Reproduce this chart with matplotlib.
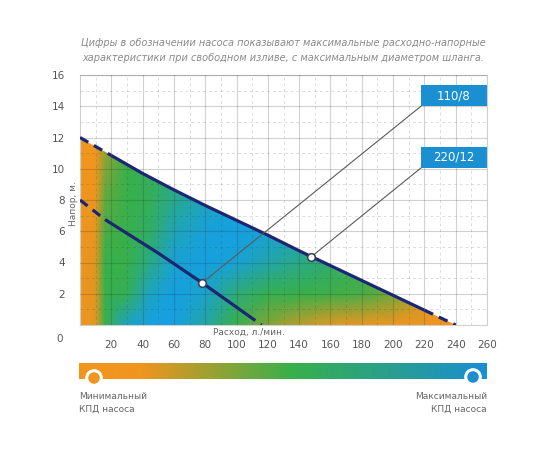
import numpy as np
import matplotlib
matplotlib.use('Agg')
import matplotlib.pyplot as plt
from matplotlib.colors import LinearSegmentedColormap
from matplotlib.patches import Polygon, Rectangle, Circle

plt.rcParams['font.family'] = ['DejaVu Sans']

# ---------------- data ----------------
title_lines = ["Цифры в обозначении насоса показывают максимальные расходно-напорные",
               "характеристики при свободном изливе, с максимальным диаметром шланга."]
x_label = "Расход, л./мин."
y_label = "Напор, м."
flow_ticks = list(range(20, 261, 20))
head_ticks = list(range(2, 17, 2))

# pump 220/12 curve
upper_q = [0, 20, 40, 60, 80, 100, 120, 140, 160, 180, 200, 220, 240]
upper_h = [12, 10.85, 9.7, 8.65, 7.65, 6.7, 5.75, 4.75, 3.8, 2.85, 1.9, 0.95, 0]
# pump 110/8 curve
lower_q = [0, 16, 50, 78, 107, 116]
lower_h = [8, 6.75, 4.6, 2.7, 0.64, 0]

pump_names = ["110/8", "220/12"]
pump_points_q = [78, 147.5]
pump_points_h = [2.7, 4.35]
label_box_q = [217.8, 217.8]
label_box_h = [14.0, 10.05]

# efficiency map (0 = minimal, 1 = maximal)
map_q = [0, 10, 16, 30, 45, 60, 80, 100, 120, 140, 160, 180, 200, 220, 240]
map_h = [0, 2, 4, 6, 8, 10, 12]
map_eff = [
    [0, 0.04, 0.5, 0.9, 1.0, 1.0, 0.8, 0.5, 0.3, 0.15, 0.05, 0.02, 0, 0, 0],
    [0, 0.05, 0.5, 0.55, 0.9, 1.0, 0.92, 0.65, 0.52, 0.5, 0.48, 0.45, 0.35, 0.08, 0],
    [0, 0.05, 0.5, 0.5, 0.7, 0.95, 1.0, 0.95, 0.82, 0.7, 0.62, 0.55, 0.45, 0.15, 0],
    [0, 0.03, 0.45, 0.5, 0.6, 0.85, 0.97, 1.0, 0.95, 0.88, 0.72, 0.58, 0.45, 0.15, 0],
    [0, 0.02, 0.4, 0.5, 0.55, 0.72, 0.88, 0.95, 0.92, 0.85, 0.7, 0.55, 0.4, 0.15, 0],
    [0, 0, 0.3, 0.5, 0.55, 0.65, 0.8, 0.85, 0.85, 0.8, 0.7, 0.55, 0.4, 0.15, 0],
    [0, 0, 0.2, 0.5, 0.55, 0.6, 0.75, 0.8, 0.8, 0.75, 0.7, 0.55, 0.4, 0.15, 0],
]
legend_min = "Минимальный\nКПД насоса"
legend_max = "Максимальный\nКПД насоса"

# ---------------- styles ----------------
ORANGE = '#F0951E'
GREEN = '#38B04A'
BLUE = '#16A0E2'
NAVY = '#1c2672'
GRAY_TXT = '#555555'
cmap = LinearSegmentedColormap.from_list('eff', [ORANGE, GREEN, BLUE])
bar_cmap = LinearSegmentedColormap.from_list(
    'bar', [(0, ORANGE), (0.15, ORANGE), (0.52, GREEN), (1, '#1a8ed3')])

W, H = 550, 450
fig = plt.figure(figsize=(5.5, 4.5), dpi=100)
fig.patch.set_facecolor('white')

L, R, T, B = 80, 487, 75, 325
ax = fig.add_axes([L / W, 1 - B / H, (R - L) / W, (B - T) / H])
ax.set_xlim(0, 260)
ax.set_ylim(0, 16)

# efficiency field clipped to the area under the 220/12 curve
Xg, Yg = np.meshgrid(map_q, map_h)
mesh = ax.pcolormesh(Xg, Yg, np.array(map_eff), cmap=cmap, vmin=0, vmax=1,
                     shading='gouraud', zorder=1)
clip = Polygon([(0, 0)] + list(zip(upper_q, upper_h)), closed=True,
               transform=ax.transData, facecolor='none', edgecolor='none')
ax.add_patch(clip)
mesh.set_clip_path(clip)

# grid
ax.set_xticks(flow_ticks)
ax.set_xticks(range(10, 260, 20), minor=True)
ax.set_yticks(head_ticks)
ax.set_yticks(range(1, 16, 2), minor=True)
ax.grid(which='major', color='#303030', alpha=0.22, lw=0.8, zorder=2)
ax.grid(which='minor', color='#303030', alpha=0.16, lw=0.7, ls=(0, (3, 3)), zorder=2)
ax.set_axisbelow(False)
for s in ax.spines.values():
    s.set_color('#cfcfcf')
    s.set_linewidth(0.8)
ax.tick_params(which='both', length=0)
ax.tick_params(axis='x', pad=11, labelsize=7.5, labelcolor=GRAY_TXT)
ax.tick_params(axis='y', pad=11, labelsize=7.5, labelcolor=GRAY_TXT)

# pump curves
def draw_curve(q, h, solid_from, solid_to):
    ax.plot(q[:solid_from + 1], h[:solid_from + 1], color=NAVY, lw=2.3,
            ls=(0, (3, 2)), solid_capstyle='butt', zorder=3)
    ax.plot(q[solid_from:solid_to + 1], h[solid_from:solid_to + 1], color=NAVY,
            lw=2.3, solid_capstyle='butt', zorder=3)
    ax.plot(q[solid_to:], h[solid_to:], color=NAVY, lw=2.3,
            ls=(0, (3, 2)), solid_capstyle='butt', zorder=3)

draw_curve(upper_q, upper_h, 1, len(upper_q) - 2)
draw_curve(lower_q, lower_h, 1, len(lower_q) - 2)

# leaders, markers and labels
for name, pq, ph, bq, bh in zip(pump_names, pump_points_q, pump_points_h,
                                label_box_q, label_box_h):
    ax.plot([pq, bq], [ph, bh], color='#5a5a5a', lw=0.8, zorder=4)
    ax.plot(pq, ph, 'o', ms=5.5, mfc='white', mec='#33405a', mew=1.1, zorder=5)
    ax.add_patch(Rectangle((bq, bh), 260 - bq, 1.36, facecolor='#1a8fd2',
                           edgecolor='none', zorder=6, clip_on=False))
    ax.text((bq + 260) / 2, bh + 0.68, name, color='white', fontsize=8.5,
            ha='center', va='center', zorder=7)

# colour bar
bx = fig.add_axes([79 / W, 1 - 379 / H, (487 - 79) / W, 16 / H])
bx.imshow(np.linspace(0, 1, 512)[None, :], cmap=bar_cmap, aspect='auto',
          extent=[0, 1, 0, 1])
bx.set_axis_off()

# overlay in pixel coordinates for texts and decorations
ov = fig.add_axes([0, 0, 1, 1], zorder=10)
ov.set_xlim(0, W)
ov.set_ylim(H, 0)
ov.set_axis_off()
ov.patch.set_alpha(0)

ov.text(283, 43, title_lines[0], ha='center', va='center', style='italic',
        fontsize=7, color='#8a8a8a')
ov.text(283, 58, title_lines[1], ha='center', va='center', style='italic',
        fontsize=7, color='#8a8a8a')
ov.text(63, 339, "0", ha='right', va='center', fontsize=7.5, color=GRAY_TXT)
ov.text(249, 332, x_label, ha='center', va='center', fontsize=6.5, color='#666666')
ov.text(73, 204, y_label, ha='center', va='center', rotation=90, fontsize=6.5,
        color='#666666')

ov.add_patch(Circle((94, 378), 7.3, facecolor=ORANGE, edgecolor='white', lw=2.2))
ov.add_patch(Circle((473, 377), 7.3, facecolor='#1b8ed2', edgecolor='white', lw=2.2))
ov.text(79, 403, legend_min, ha='left', va='center', fontsize=6.5,
        color='#666666', linespacing=1.5)
ov.text(487, 403, legend_max, ha='right', va='center', fontsize=6.5,
        color='#666666', linespacing=1.5)

fig.savefig('out.png', dpi=100, facecolor='white')
